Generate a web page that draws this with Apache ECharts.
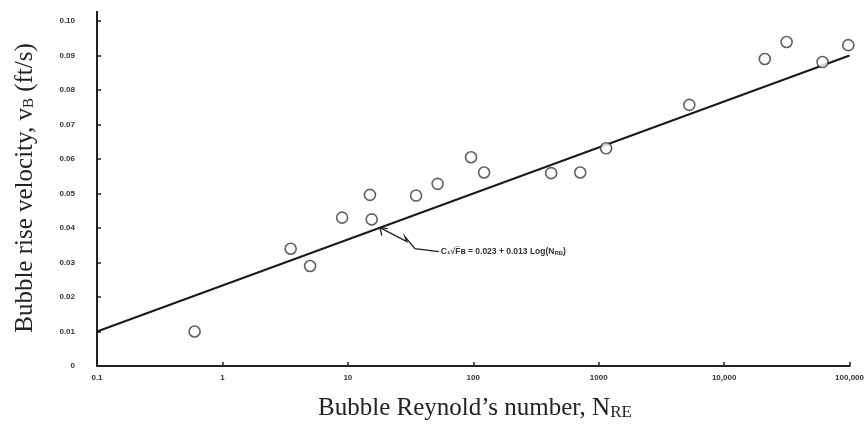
<!DOCTYPE html>
<html>
<head>
<meta charset="utf-8">
<script src="https://cdn.jsdelivr.net/npm/echarts@6/dist/echarts.min.js"></script>
<style>
html,body{margin:0;padding:0;background:#fff;}
#c{width:867px;height:426px;}
</style>
</head>
<body>
<div id="c"></div>
<script>
// Data
var reynolds = [0.6, 3.5, 5, 9, 15, 15.5, 35, 52, 96, 122, 418, 713, 1146, 5280, 21100, 31500, 60900, 97800];
var velocity = [0.010, 0.034, 0.029, 0.043, 0.0496, 0.0425, 0.0494, 0.0528, 0.0605, 0.0561, 0.0559, 0.0561, 0.0631, 0.0757, 0.089, 0.0939, 0.0881, 0.093];
var fitX = [0.1, 100000];
var fitY = [0.010, 0.090];
var xTickValues = [0.1, 1, 10, 100, 1000, 10000, 100000];
var xTickLabels = ['0.1', '1', '10', '100', '1000', '10,000', '100,000'];
var yTickLabels = ['0', '0.01', '0.02', '0.03', '0.04', '0.05', '0.06', '0.07', '0.08', '0.09', '0.10'];
var annotationAt = [18, 0.0401];

var chart = echarts.init(document.getElementById('c'), null, {renderer: 'canvas'});
var points = reynolds.map(function (x, i) { return [x, velocity[i]]; });
var fit = fitX.map(function (x, i) { return [x, fitY[i]]; });

var option = {
  animation: false,
  backgroundColor: '#fff',
  grid: {left: 97, right: 13, top: 21, bottom: 60},
  xAxis: {
    type: 'log', logBase: 10, min: 0.1, max: 100000,
    axisLine: {lineStyle: {color: '#222', width: 2}},
    axisTick: {inside: true, length: 4, lineStyle: {color: '#222', width: 1.5}},
    minorTick: {show: false},
    splitLine: {show: false},
    axisLabel: {
      margin: 8, color: '#333', fontSize: 8, fontWeight: 'bold', fontFamily: 'Arial, Liberation Sans, sans-serif',
      formatter: function (v) {
        for (var i = 0; i < xTickValues.length; i++) {
          if (Math.abs(Math.log10(v) - Math.log10(xTickValues[i])) < 1e-6) return xTickLabels[i];
        }
        return '';
      }
    }
  },
  yAxis: {
    type: 'value', min: 0, max: 0.1, interval: 0.01,
    axisLine: {show: true, lineStyle: {color: '#222', width: 2}},
    axisTick: {show: true, inside: true, length: 4, lineStyle: {color: '#222', width: 1.5}},
    splitLine: {show: false},
    axisLabel: {
      margin: 22, color: '#333', fontSize: 8, fontWeight: 'bold', fontFamily: 'Arial, Liberation Sans, sans-serif',
      formatter: function (v) { return yTickLabels[Math.round(v / 0.01)]; }
    }
  },
  series: [
    {
      type: 'line', data: fit, symbol: 'none',
      lineStyle: {color: '#1a1a1a', width: 2}, z: 2
    },
    {
      type: 'scatter', data: points, symbol: 'circle', symbolSize: 11,
      itemStyle: {color: '#fff', borderColor: '#3a3a3a', borderWidth: 1.6}, z: 3
    }
  ]
};
chart.setOption(option);

var tip = chart.convertToPixel({gridIndex: 0}, annotationAt);
var tx = tip[0], ty = tip[1];
var corner = chart.convertToPixel({gridIndex: 0}, [0.1, 0.1]);
var serif = '"Liberation Serif", "Times New Roman", "DejaVu Serif", serif';

chart.setOption({
  graphic: [
    // y-axis line extends a little above the top tick
    {type: 'line', shape: {x1: corner[0], y1: corner[1], x2: corner[0], y2: corner[1] - 10},
      style: {stroke: '#222', lineWidth: 2}},
    // leader arrow with zigzag
    {type: 'polyline', shape: {points: [[tx, ty], [tx + 27, ty + 14], [tx + 25, ty + 9], [tx + 35, ty + 21], [tx + 59, ty + 24]]},
      style: {stroke: '#222', lineWidth: 1.3, fill: null}},
    {type: 'polyline', shape: {points: [[tx + 2, ty + 8], [tx, ty], [tx + 8, ty + 1]]},
      style: {stroke: '#222', lineWidth: 1.3, fill: null}},
    {type: 'text', x: tx + 61, y: ty + 24,
      style: {
        text: '{t|C₁√F̅ʙ = 0.023 + 0.013 Log(N}{s|RB}{t|)}',
        rich: {
          t: {fontSize: 8.5, fontFamily: 'Arial, Liberation Sans, sans-serif', fill: '#333', fontWeight: 'bold'},
          s: {fontSize: 6, fontFamily: 'Arial, Liberation Sans, sans-serif', fill: '#333', fontWeight: 'bold', padding: [4, 0, 0, 0]}
        },
        verticalAlign: 'middle', align: 'left'
      }},
    // y-axis title
    {type: 'text', x: 25, y: 188, rotation: Math.PI / 2,
      style: {
        text: '{t|Bubble rise velocity, v}{s|B}{t| (ft/s)}',
        rich: {
          t: {fontSize: 25, fontFamily: serif, fill: '#222'},
          s: {fontSize: 15, fontFamily: serif, fill: '#222', padding: [9, 0, 0, 0]}
        },
        align: 'center', verticalAlign: 'middle'
      }},
    // x-axis title
    {type: 'text', x: 475, y: 408,
      style: {
        text: '{t|Bubble Reynold’s number, N}{s|RE}',
        rich: {
          t: {fontSize: 25, fontFamily: serif, fill: '#222'},
          s: {fontSize: 17, fontFamily: serif, fill: '#222', padding: [9, 0, 0, 0]}
        },
        align: 'center', verticalAlign: 'middle'
      }}
  ]
});
</script>
</body>
</html>
